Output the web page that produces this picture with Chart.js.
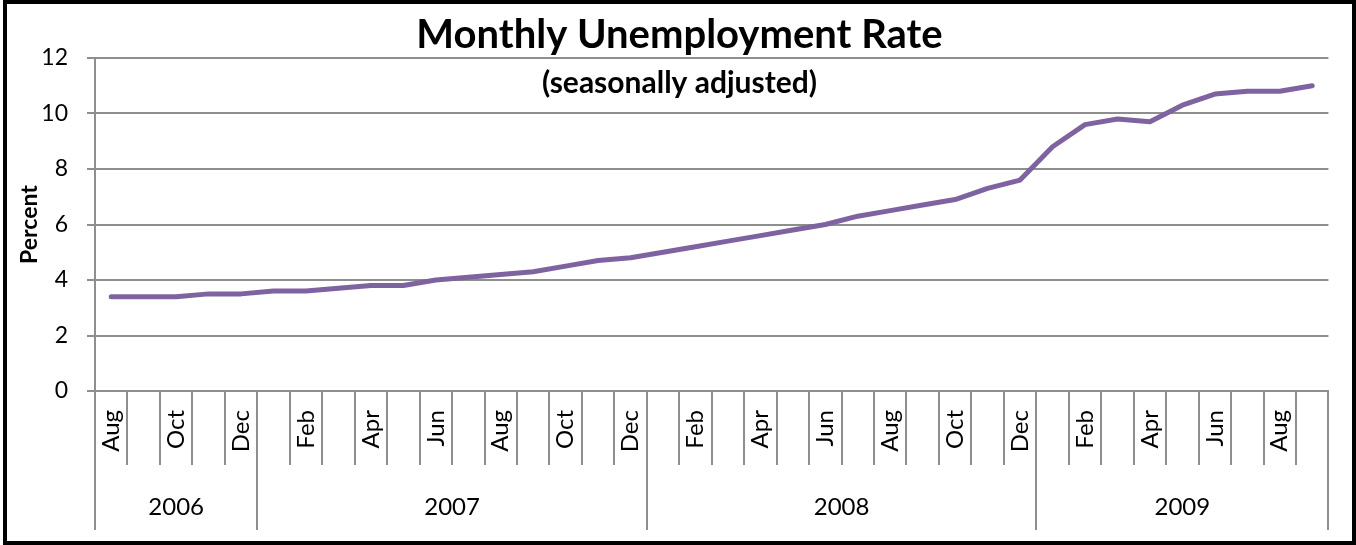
<!DOCTYPE html>
<html>
<head>
<meta charset="utf-8">
<script src="https://cdn.jsdelivr.net/npm/chart.js@4/dist/chart.umd.min.js"></script>
<style>
  body { margin: 0; background: #fff; }
  #frame {
    position: absolute; left: 3px; top: 0;
    width: 1353px; height: 545px;
    border: 4px solid #000; box-sizing: border-box;
  }
  #myChart { display: block; }
</style>
</head>
<body>
<div id="frame"><canvas id="myChart" width="1345" height="537"></canvas></div>
<script>
// Aug 2006 .. Sep 2009, one entry per month
var months = ['Aug','Sep','Oct','Nov','Dec',
  'Jan','Feb','Mar','Apr','May','Jun','Jul','Aug','Sep','Oct','Nov','Dec',
  'Jan','Feb','Mar','Apr','May','Jun','Jul','Aug','Sep','Oct','Nov','Dec',
  'Jan','Feb','Mar','Apr','May','Jun','Jul','Aug','Sep'];
var years = ['2006','2006','2006','2006','2006',
  '2007','2007','2007','2007','2007','2007','2007','2007','2007','2007','2007','2007',
  '2008','2008','2008','2008','2008','2008','2008','2008','2008','2008','2008','2008',
  '2009','2009','2009','2009','2009','2009','2009','2009','2009'];
var rates = [3.4, 3.4, 3.4, 3.5, 3.5,
  3.6, 3.6, 3.7, 3.8, 3.8, 4.0, 4.1, 4.2, 4.3, 4.5, 4.7, 4.8,
  5.0, 5.2, 5.4, 5.6, 5.8, 6.0, 6.3, 6.5, 6.7, 6.9, 7.3, 7.6,
  8.8, 9.6, 9.8, 9.7, 10.3, 10.7, 10.8, 10.8, 11.0];
var yTicks = [0, 2, 4, 6, 8, 10, 12];

var gridGray = '#8e8e8e';
var fontFam = 'Lato, "Open Sans", sans-serif';

// month tick marks + year group lines and labels under the x axis
var yearGroups = {
    id: 'yearGroups',
    afterDraw: function(chart) {
        var xs = chart.scales.x;
        var ctx = chart.ctx;
        var top = xs.top;
        ctx.save();
        ctx.strokeStyle = gridGray;
        ctx.lineWidth = 2;
        for (var i = 0; i <= months.length; i++) {
            var px = Math.round(xs.getPixelForValue(i - 0.5));
            var edge = i === 0 || i === months.length || years[i] !== years[i - 1];
            ctx.beginPath();
            ctx.moveTo(px, top);
            ctx.lineTo(px, top + (edge ? 139 : 74));
            ctx.stroke();
        }
        ctx.fillStyle = '#000';
        ctx.font = '24px ' + fontFam;
        ctx.textAlign = 'center';
        ctx.textBaseline = 'middle';
        var start = 0;
        for (var j = 1; j <= years.length; j++) {
            if (j === years.length || years[j] !== years[start]) {
                var a = xs.getPixelForValue(start - 0.5);
                var b = xs.getPixelForValue(j - 0.5);
                ctx.fillText(years[start], (a + b) / 2, top + 116);
                start = j;
            }
        }
        ctx.restore();
    }
};

var ctx = document.getElementById('myChart').getContext('2d');
var chart = new Chart(ctx, {
    type: 'line',
    data: {
        labels: months,
        datasets: [{
            label: 'Unemployment rate',
            data: rates,
            borderColor: '#7f63a1',
            backgroundColor: '#7f63a1',
            borderWidth: 5,
            borderCapStyle: 'round',
            borderJoinStyle: 'round',
            pointRadius: 0,
            tension: 0,
            fill: false
        }]
    },
    options: {
        responsive: false,
        animation: false,
        layout: { padding: 0 },
        plugins: {
            legend: { display: false },
            tooltip: { enabled: false },
            title: {
                display: true,
                text: 'Monthly Unemployment Rate',
                color: '#000',
                font: { family: fontFam, size: 40, weight: 'bold', lineHeight: 1.2 },
                padding: { top: 7, bottom: -11 }
            },
            subtitle: {
                display: true,
                text: '(seasonally adjusted)',
                color: '#000',
                font: { family: fontFam, size: 30, weight: 'bold', lineHeight: 1.2 },
                padding: { top: 17, bottom: -43 }
            }
        },
        scales: {
            x: {
                offset: true,
                grid: { display: false },
                border: { display: true, color: gridGray, width: 2 },
                ticks: {
                    autoSkip: false,
                    minRotation: 90,
                    maxRotation: 90,
                    padding: 11,
                    color: '#000',
                    font: { family: fontFam, size: 24 },
                    callback: function(v, i) {
                        return i % 2 === 0 ? months[i] : '';
                    }
                },
                afterFit: function(scale) { scale.height = 150; }
            },
            y: {
                min: 0,
                max: 12,
                afterBuildTicks: function(scale) {
                    scale.ticks = yTicks.map(function(v) { return { value: v }; });
                },
                grid: { color: gridGray, lineWidth: 2, tickLength: 8 },
                border: { display: true, color: gridGray, width: 2 },
                ticks: {
                    padding: 19,
                    color: '#000',
                    font: { family: fontFam, size: 23 }
                },
                title: {
                    display: true,
                    text: 'Percent',
                    color: '#000',
                    font: { family: fontFam, size: 23, weight: 'bold', lineHeight: 1.2 },
                    padding: { top: 9, bottom: 0 }
                },
                afterFit: function(scale) { scale.width = 88; }
            }
        }
    },
    plugins: [yearGroups]
});
</script>
</body>
</html>
